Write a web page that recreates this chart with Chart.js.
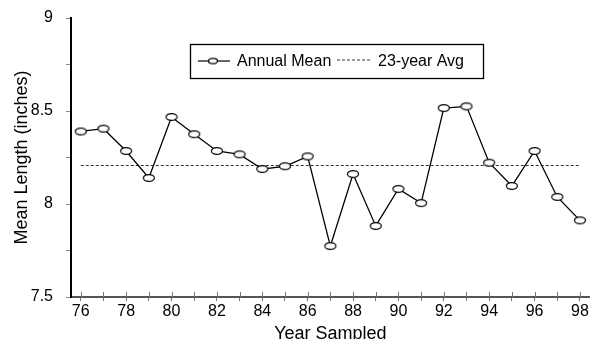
<!DOCTYPE html>
<html>
<head>
<meta charset="utf-8">
<script src="https://cdn.jsdelivr.net/npm/chart.js@4.4.0/dist/chart.umd.min.js"></script>
<style>
  html, body { margin: 0; padding: 0; background: #fff; }
  #wrap { width: 597px; height: 339px; position: relative; }
</style>
</head>
<body>
<div id="wrap"><canvas id="c"></canvas></div>
<script>
const FONT = 'Arial, "Liberation Sans", Helvetica, sans-serif';

// ---- data -------------------------------------------------------------------
const years      = [76, 77, 78, 79, 80, 81, 82, 83, 84, 85, 86, 87,
                    88, 89, 90, 91, 92, 93, 94, 95, 96, 97, 98];
const meanLength = [8.39, 8.405, 8.285, 8.14, 8.468, 8.375, 8.285, 8.267, 8.188, 8.203, 8.256, 7.774,
                    8.161, 7.882, 8.081, 8.005, 8.516, 8.525, 8.222, 8.097, 8.285, 8.038, 7.912];
const avgYears   = [76, 98];
const avgLength  = 8.207;

const xTickLabels = ['76', '78', '80', '82', '84', '86', '88', '90', '92', '94', '96', '98'];
const yTickValues = [7.5, 8, 8.5, 9];
const yTickLabels = ['7.5', '8', '8.5', '9'];

const seriesLabels = ['Annual Mean', '23-year Avg'];

// ---- open ellipse markers ---------------------------------------------------
function ellipseMarker(rx, ry) {
  const c = document.createElement('canvas');
  c.width = Math.ceil(rx * 2 + 3);
  c.height = Math.ceil(ry * 2 + 3);
  const g = c.getContext('2d');
  g.beginPath();
  g.ellipse(c.width / 2, c.height / 2, rx, ry, 0, 0, Math.PI * 2);
  g.fillStyle = '#fff';
  g.fill();
  g.lineWidth = 1.2;
  g.strokeStyle = '#000';
  g.stroke();
  return c;
}
const marker       = ellipseMarker(5.5, 3.4);
const legendMarker = ellipseMarker(4.5, 2.7);

// ---- boxed legend + crossing x ticks ----------------------------------------
const boxLegend = {
  id: 'boxLegend',
  afterDraw(chart) {
    const ctx = chart.ctx;
    const xs = chart.scales.x;

    // x tick marks also poke above the axis line
    ctx.save();
    ctx.strokeStyle = '#777';
    ctx.lineWidth = 1;
    ctx.beginPath();
    for (const t of xs.ticks) {
      const px = Math.round(xs.getPixelForValue(t.value)) + 0.5;
      ctx.moveTo(px, xs.top - 5);
      ctx.lineTo(px, xs.top);
    }
    ctx.stroke();
    ctx.restore();

    const x = 190, y = 44, w = 293, h = 34;
    const mid = y + h / 2;
    const dsets = chart.data.datasets;
    ctx.save();
    ctx.fillStyle = '#fff';
    ctx.fillRect(x, y, w, h);
    ctx.strokeStyle = '#000';
    ctx.lineWidth = 1.3;
    ctx.strokeRect(x + 0.5, y + 0.5, w, h);

    ctx.font = '16px ' + FONT;
    ctx.fillStyle = '#000';
    ctx.textBaseline = 'middle';

    // Annual Mean
    ctx.beginPath();
    ctx.moveTo(198, mid);
    ctx.lineTo(230, mid);
    ctx.lineWidth = 1.2;
    ctx.stroke();
    ctx.drawImage(legendMarker, 213 - legendMarker.width / 2, mid - legendMarker.height / 2);
    ctx.fillText(dsets[0].label, 237, mid + 1);

    // 23-year Avg
    ctx.beginPath();
    ctx.setLineDash([3, 2]);
    ctx.strokeStyle = '#333';
    ctx.lineWidth = 1;
    ctx.moveTo(337, mid - 1);
    ctx.lineTo(371, mid - 1);
    ctx.stroke();
    ctx.setLineDash([]);
    ctx.fillText(dsets[1].label, 378, mid + 1);
    ctx.restore();
  }
};

new Chart(document.getElementById('c'), {
  type: 'line',
  data: {
    datasets: [
      {
        label: seriesLabels[0],
        data: years.map((yr, i) => ({ x: yr, y: meanLength[i] })),
        borderColor: '#000', borderWidth: 1.3,
        pointStyle: marker, pointRadius: 6,
        tension: 0,
      },
      {
        label: seriesLabels[1],
        data: avgYears.map(yr => ({ x: yr, y: avgLength })),
        borderColor: '#333', borderWidth: 1,
        borderDash: [3, 2],
        pointRadius: 0,
        tension: 0,
      },
    ],
  },
  options: {
    animation: false,
    responsive: true,
    maintainAspectRatio: false,
    layout: { padding: { top: 18, right: 0, left: 0, bottom: 0 } },
    plugins: {
      legend: { display: false },
      tooltip: { enabled: false },
    },
    scales: {
      x: {
        type: 'linear',
        min: 75.57, max: 98.43,
        afterBuildTicks: s => { s.ticks = years.map(v => ({ value: v })); },
        afterFit: s => { s.height = 42; },
        border: { display: true, color: '#555', width: 2 },
        grid: { drawOnChartArea: false, drawTicks: true, tickLength: 4, color: '#777' },
        ticks: {
          autoSkip: false, maxRotation: 0, padding: 1,
          color: '#000', font: { size: 16, family: FONT },
          callback: v => (xTickLabels.includes(String(v)) ? String(v) : ''),
        },
        title: {
          display: true, text: 'Year Sampled', color: '#000',
          font: { size: 18, family: FONT, lineHeight: 0.5 },
          padding: 0,
        },
      },
      y: {
        type: 'linear',
        min: 7.5, max: 9,
        ticks: {
          stepSize: 0.25, padding: 13,
          color: '#000', font: { size: 16, family: FONT },
          callback: v => {
            const i = yTickValues.findIndex(t => Math.abs(t - v) < 1e-6);
            return i >= 0 ? yTickLabels[i] : '';
          },
        },
        afterFit: s => { s.width = 71; s.paddingTop = 0; s.paddingBottom = 0; },
        border: { display: true, color: '#000', width: 2 },
        grid: { drawOnChartArea: false, drawTicks: true, tickLength: 5, color: '#888' },
        title: {
          display: true, text: 'Mean Length (inches)', color: '#000',
          font: { size: 18, family: FONT },
          padding: { top: 11, bottom: 0 },
        },
      },
    },
  },
  plugins: [boxLegend],
});
</script>
</body>
</html>
